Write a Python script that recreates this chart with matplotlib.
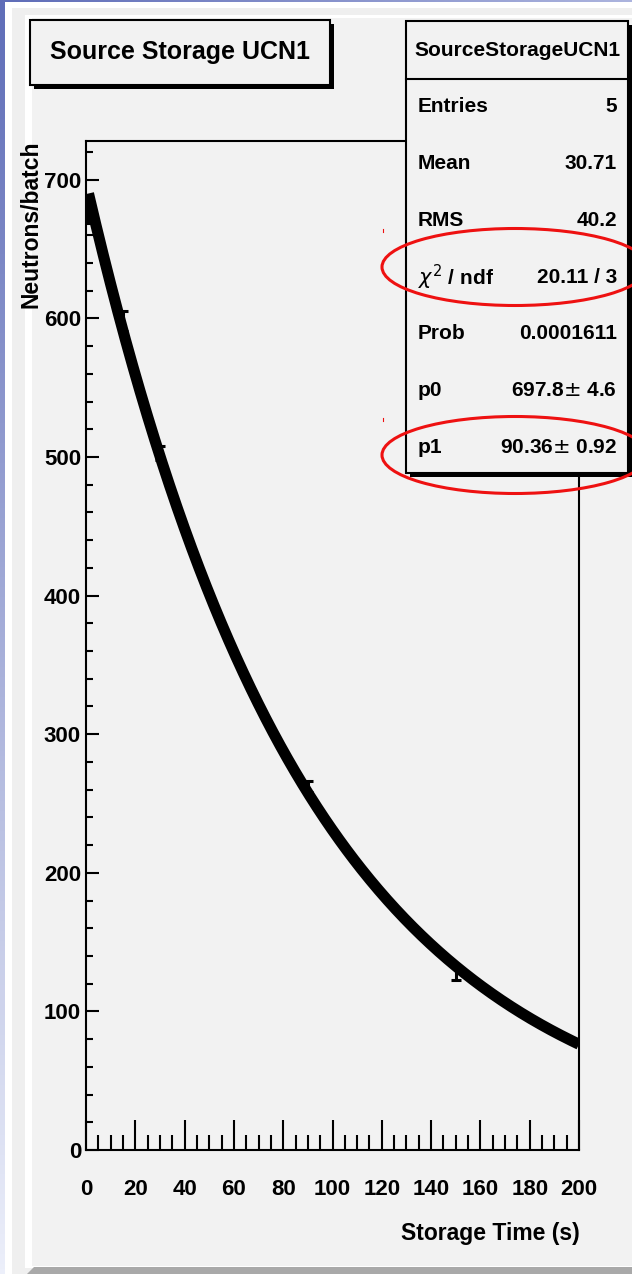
import matplotlib.pyplot as plt
import numpy as np
from matplotlib.patches import Rectangle, Ellipse, Polygon
from matplotlib.ticker import MultipleLocator

plt.rcParams['font.family'] = ['Liberation Sans', 'DejaVu Sans']
plt.rcParams['mathtext.fontset'] = 'dejavusans'

# measured points (storage time in s, neutrons per batch, error)
t_points = [1, 15, 30, 90, 150]
n_points = [677, 598, 503, 262, 128]
n_errors = [8, 7, 5, 4, 5]

# fit result from the stats box: p0 * exp(-t / p1)
p0 = 697.8
p1 = 90.36
fit_range = (1, 200)

stat_labels = ['Entries', 'Mean', 'RMS', r'$\chi^{2}$ / ndf', 'Prob', 'p0', 'p1']
stat_values = ['5', '30.71', '40.2', '20.11 / 3', '0.0001611',
               '697.8$\\pm$ 4.6', '90.36$\\pm$ 0.92']

W, H = 632, 1274
fig = plt.figure(figsize=(W / 100, H / 100), dpi=100)
fig.patch.set_facecolor('white')

# background layer in pixel coords
bg = fig.add_axes([0, 0, 1, 1], zorder=-1)
bg.axis('off')

# blue slide gradient at the left and top edges
grad = np.linspace(0, 1, 256)[:, None]
c_top = np.array([95, 109, 184]) / 255
c_bot = np.array([236, 239, 250]) / 255
img = c_top[None, None, :] * (1 - grad[:, :, None]) + c_bot[None, None, :] * grad[:, :, None]
bg.imshow(img, extent=[0, 5, H, 0], aspect='auto')
c_right = np.array([172, 180, 222]) / 255
img2 = (c_top[None, None, :] * (1 - grad.T[:, :, None]) + c_right[None, None, :] * grad.T[:, :, None])
bg.imshow(img2, extent=[0, W, 2.5, 0], aspect='auto')

bg.add_patch(Rectangle((12, 8), W - 12, H - 8, color='#efefef', lw=0))
bg.add_patch(Rectangle((25, 15), W - 25, H - 15 - 6, color='white', lw=0))
bg.add_patch(Rectangle((32, 18), W - 32, H - 18 - 8, color='#f2f2f2', lw=0))
bg.add_patch(Polygon([(27, H), (34, H - 7), (W, H - 7), (W, H)], color='#a9a9a9', lw=0))
bg.set_xlim(0, W)
bg.set_ylim(H, 0)

# main plot frame
ax = fig.add_axes([86 / W, (H - 1150) / H, 493 / W, (1150 - 141) / H], zorder=1)
ax.patch.set_alpha(0)

ax.errorbar(t_points, n_points, yerr=n_errors, fmt='none', ecolor='black',
            elinewidth=2.2, capsize=3.5, capthick=2.2, zorder=2)
t_fit = np.linspace(fit_range[0], fit_range[1], 400)
ax.plot(t_fit, p0 * np.exp(-t_fit / p1), color='black', lw=8,
        solid_capstyle='butt', zorder=3)

ax.set_xlim(0, 200)
ax.set_ylim(0, 728)
ax.xaxis.set_major_locator(MultipleLocator(20))
ax.xaxis.set_minor_locator(MultipleLocator(5))
ax.yaxis.set_major_locator(MultipleLocator(100))
ax.yaxis.set_minor_locator(MultipleLocator(20))
ax.tick_params(axis='x', which='major', direction='in', length=21.6, width=1.5,
               pad=21, labelsize=16, top=False)
ax.tick_params(axis='x', which='minor', direction='in', length=10.8, width=1.5, top=False)
ax.tick_params(axis='y', which='major', direction='in', length=9.4, width=1.5,
               pad=3.6, labelsize=16, right=False)
ax.tick_params(axis='y', which='minor', direction='in', length=5, width=1.5, right=False)
for lab in ax.get_xticklabels() + ax.get_yticklabels():
    lab.set_fontweight('bold')
for sp in ax.spines.values():
    sp.set_linewidth(1.5)

fig.text(31 / W, 1 - 140 / H, 'Neutrons/batch', rotation=90, ha='center', va='top',
         fontsize=16.5, fontweight='bold')
fig.text(580 / W, 1 - 1240 / H, 'Storage Time (s)', ha='right', va='baseline',
         fontsize=16.5, fontweight='bold')

# foreground layer: title box, stats box, red ellipses
fg = fig.add_axes([0, 0, 1, 1], zorder=5)
fg.patch.set_alpha(0)
fg.axis('off')
fg.set_xlim(0, W)
fg.set_ylim(H, 0)

# title pave with shadow
fg.add_patch(Rectangle((34, 24), 300, 65, color='black', lw=0))
fg.add_patch(Rectangle((30, 20), 300, 65, facecolor='#f2f2f2', edgecolor='black', lw=1.5))
fg.text(180, 52, 'Source Storage UCN1', ha='center', va='center',
        fontsize=18, fontweight='bold')

# stats pave with shadow
sx0, sx1, sy0, sy1 = 406, 628, 21, 473
fg.add_patch(Rectangle((sx0 + 4, sy0 + 4), sx1 - sx0, sy1 - sy0, color='black', lw=0))
fg.add_patch(Rectangle((sx0, sy0), sx1 - sx0, sy1 - sy0, facecolor='#f2f2f2',
                       edgecolor='black', lw=1.5))
fg.plot([sx0, sx1], [79, 79], color='black', lw=1.5)
fg.text((sx0 + sx1) / 2, 50, 'SourceStorageUCN1', ha='center', va='center',
        fontsize=15, fontweight='bold')
row_y = 107
for lab, val in zip(stat_labels, stat_values):
    fg.text(418, row_y, lab, ha='left', va='center', fontsize=15, fontweight='bold')
    fg.text(617, row_y, val, ha='right', va='center', fontsize=15, fontweight='bold')
    row_y += 56.7

# red highlight ellipses
for cy in (267, 455):
    fg.add_patch(Ellipse((515, cy), 266, 77, fill=False, edgecolor='#ee1111', lw=2.2))
for cy in (229, 418):
    fg.plot([383, 383], [cy, cy + 3], color='#ee1111', lw=0.8)

fig.savefig('out.png', dpi=100)
